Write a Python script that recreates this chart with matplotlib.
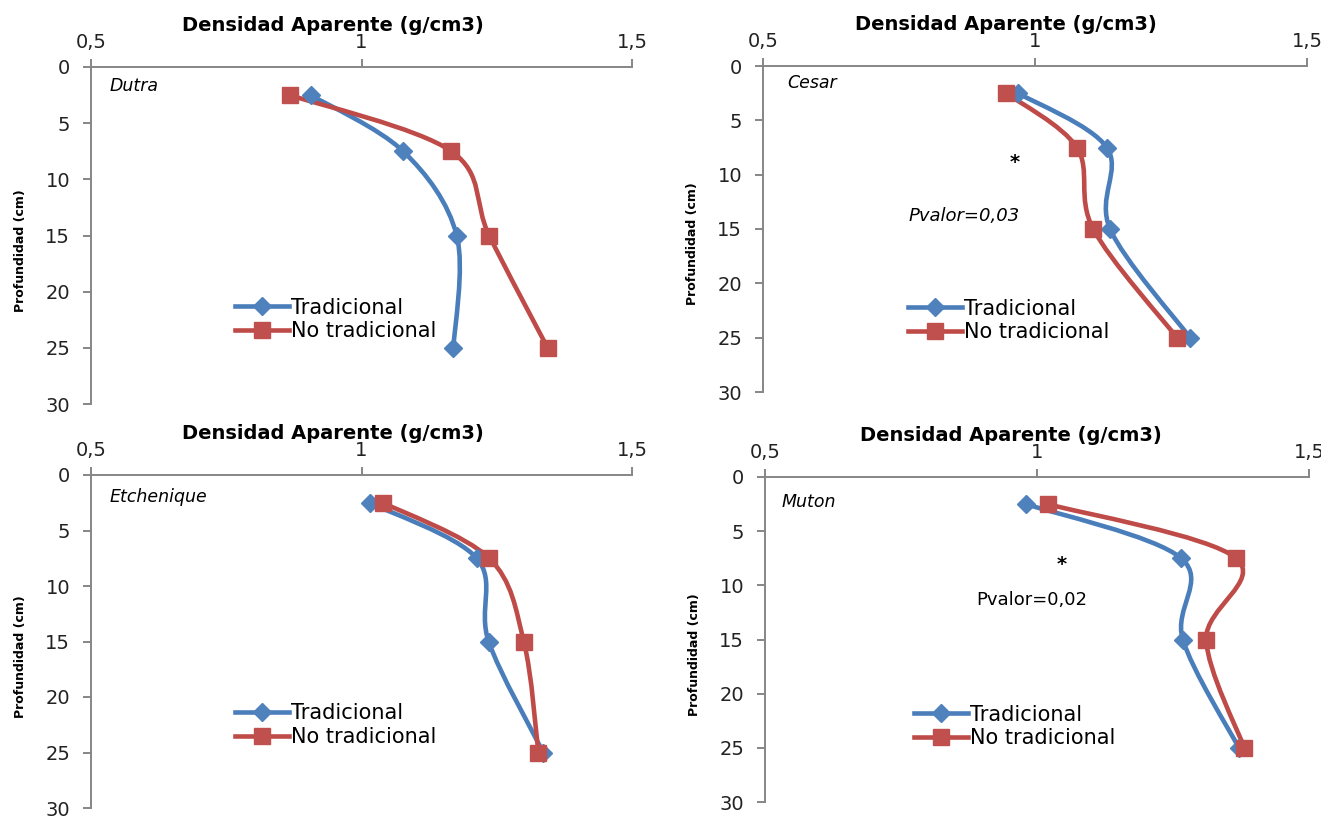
import numpy as np
import matplotlib
matplotlib.use("Agg")
from matplotlib import pyplot as plt
from matplotlib.path import Path
from matplotlib.patches import PathPatch
from matplotlib.lines import Line2D

# depth of each sample (cm)
depth = [2.5, 7.5, 15, 25]

# bulk density (g/cm3) per site
dutra_trad = [0.906, 1.077, 1.176, 1.170]
dutra_notrad = [0.868, 1.166, 1.236, 1.344]
cesar_trad = [0.969, 1.132, 1.138, 1.285]
cesar_notrad = [0.947, 1.077, 1.107, 1.261]
etch_trad = [1.015, 1.213, 1.235, 1.336]
etch_notrad = [1.040, 1.236, 1.300, 1.327]
muton_trad = [0.980, 1.265, 1.268, 1.371]
muton_notrad = [1.020, 1.366, 1.311, 1.381]

x_ticks = [0.5, 1, 1.5]
x_ticklabels = ["0,5", "1", "1,5"]
y_ticks = [0, 5, 10, 15, 20, 25, 30]

blue_line = "#4A7EBB"
blue_mark = "#4F81BD"
red_line = "#BE4B48"
red_mark = "#C0504D"
spine_col = "#868686"


def smooth_path(xs, ys):
  # excel-like smoothed line: cubic bezier, catmull-rom style control points
  p = np.column_stack([xs, ys]).astype(float)
  n = len(p)
  verts = [p[0]]
  codes = [Path.MOVETO]
  for i in range(n - 1):
    prev = p[max(i - 1, 0)]
    nxt = p[min(i + 2, n - 1)]
    c1 = p[i] + (p[i + 1] - prev) / 6.0
    c2 = p[i + 1] - (nxt - p[i]) / 6.0
    verts += [c1, c2, p[i + 1]]
    codes += [Path.CURVE4] * 3
  return Path(verts, codes)


def draw_panel(ax, trad, notrad, site, legend_pos, title_x):
  for vals, lc, mc, mk, ms in [(trad, blue_line, blue_mark, "D", 9),
                               (notrad, red_line, red_mark, "s", 12)]:
    patch = PathPatch(smooth_path(vals, depth), facecolor="none",
                      edgecolor=lc, lw=3.3, capstyle="round",
                      joinstyle="round", transform=ax.transData)
    ax.add_patch(patch)
    ax.plot(vals, depth, linestyle="none", marker=mk, markersize=ms,
            color=mc, markeredgecolor=mc)

  ax.set_xlim(0.5, 1.5)
  ax.set_ylim(30, 0)
  ax.xaxis.tick_top()
  ax.set_xticks(x_ticks)
  ax.set_xticklabels(x_ticklabels)
  ax.set_yticks(y_ticks)
  ax.tick_params(axis="x", which="both", direction="out", length=6,
                 width=1.4, color=spine_col, labelsize=14, pad=5,
                 labelcolor="#222222")
  ax.tick_params(axis="y", which="both", direction="out", length=6,
                 width=1.4, color=spine_col, labelsize=14, pad=9,
                 labelcolor="#222222")
  for s in ["right", "bottom"]:
    ax.spines[s].set_visible(False)
  for s in ["left", "top"]:
    ax.spines[s].set_color(spine_col)
    ax.spines[s].set_linewidth(1.4)

  ax.annotate("Densidad Aparente (g/cm3)", xy=(title_x, 1.0),
              xycoords="axes fraction", xytext=(0, 30),
              textcoords="offset points", ha="center", va="center",
              fontsize=14, fontweight="bold")
  ax.set_ylabel("Profundidad (cm)", fontsize=9, fontweight="bold")
  ax.yaxis.set_label_coords(-0.118, 0.455)
  ax.text(site[1], site[2], site[0], transform=ax.transAxes, ha="left",
          va="center", fontsize=12.5, style="italic")

  handles = [Line2D([], [], color=blue_line, lw=3.3, marker="D",
                    markersize=9, markerfacecolor=blue_mark,
                    markeredgecolor=blue_mark),
             Line2D([], [], color=red_line, lw=3.3, marker="s",
                    markersize=12, markerfacecolor=red_mark,
                    markeredgecolor=red_mark)]
  ax.legend(handles, ["Tradicional", "No tradicional"], loc="center left",
            bbox_to_anchor=legend_pos, frameon=False, fontsize=15,
            handlelength=2.6, handletextpad=0.1, labelspacing=0.18,
            borderpad=0, borderaxespad=0)


fig = plt.figure(figsize=(13.21, 8.17), dpi=100)
W, H = 1321.0, 817.0


def add_ax(left, right, top, bottom):
  return fig.add_axes([left / W, 1 - bottom / H, (right - left) / W,
                       (bottom - top) / H])


ax1 = add_ax(91, 632, 67, 404)
ax2 = add_ax(763, 1307, 66, 392)
ax3 = add_ax(91, 632, 475, 808)
ax4 = add_ax(765, 1309, 477, 802)

draw_panel(ax1, dutra_trad, dutra_notrad, ("Dutra", 0.035, 0.944),
           (0.266, 0.251), 0.447)
draw_panel(ax2, cesar_trad, cesar_notrad, ("Cesar", 0.044, 0.948),
           (0.267, 0.219), 0.447)
draw_panel(ax3, etch_trad, etch_notrad, ("Etchenique", 0.035, 0.934),
           (0.266, 0.249), 0.447)
draw_panel(ax4, muton_trad, muton_notrad, ("Muton", 0.031, 0.923),
           (0.274, 0.232), 0.452)

# significance marks
ax2.text(0.963, 8.9, "*", ha="center", va="center", fontsize=14,
         fontweight="bold")
ax2.text(0.768, 13.8, "Pvalor=0,03", ha="left", va="center", fontsize=13,
         style="italic")
ax4.text(1.046, 8.1, "*", ha="center", va="center", fontsize=14,
         fontweight="bold")
ax4.text(0.888, 11.35, "Pvalor=0,02", ha="left", va="center", fontsize=13)

fig.savefig("out.png", dpi=100)
